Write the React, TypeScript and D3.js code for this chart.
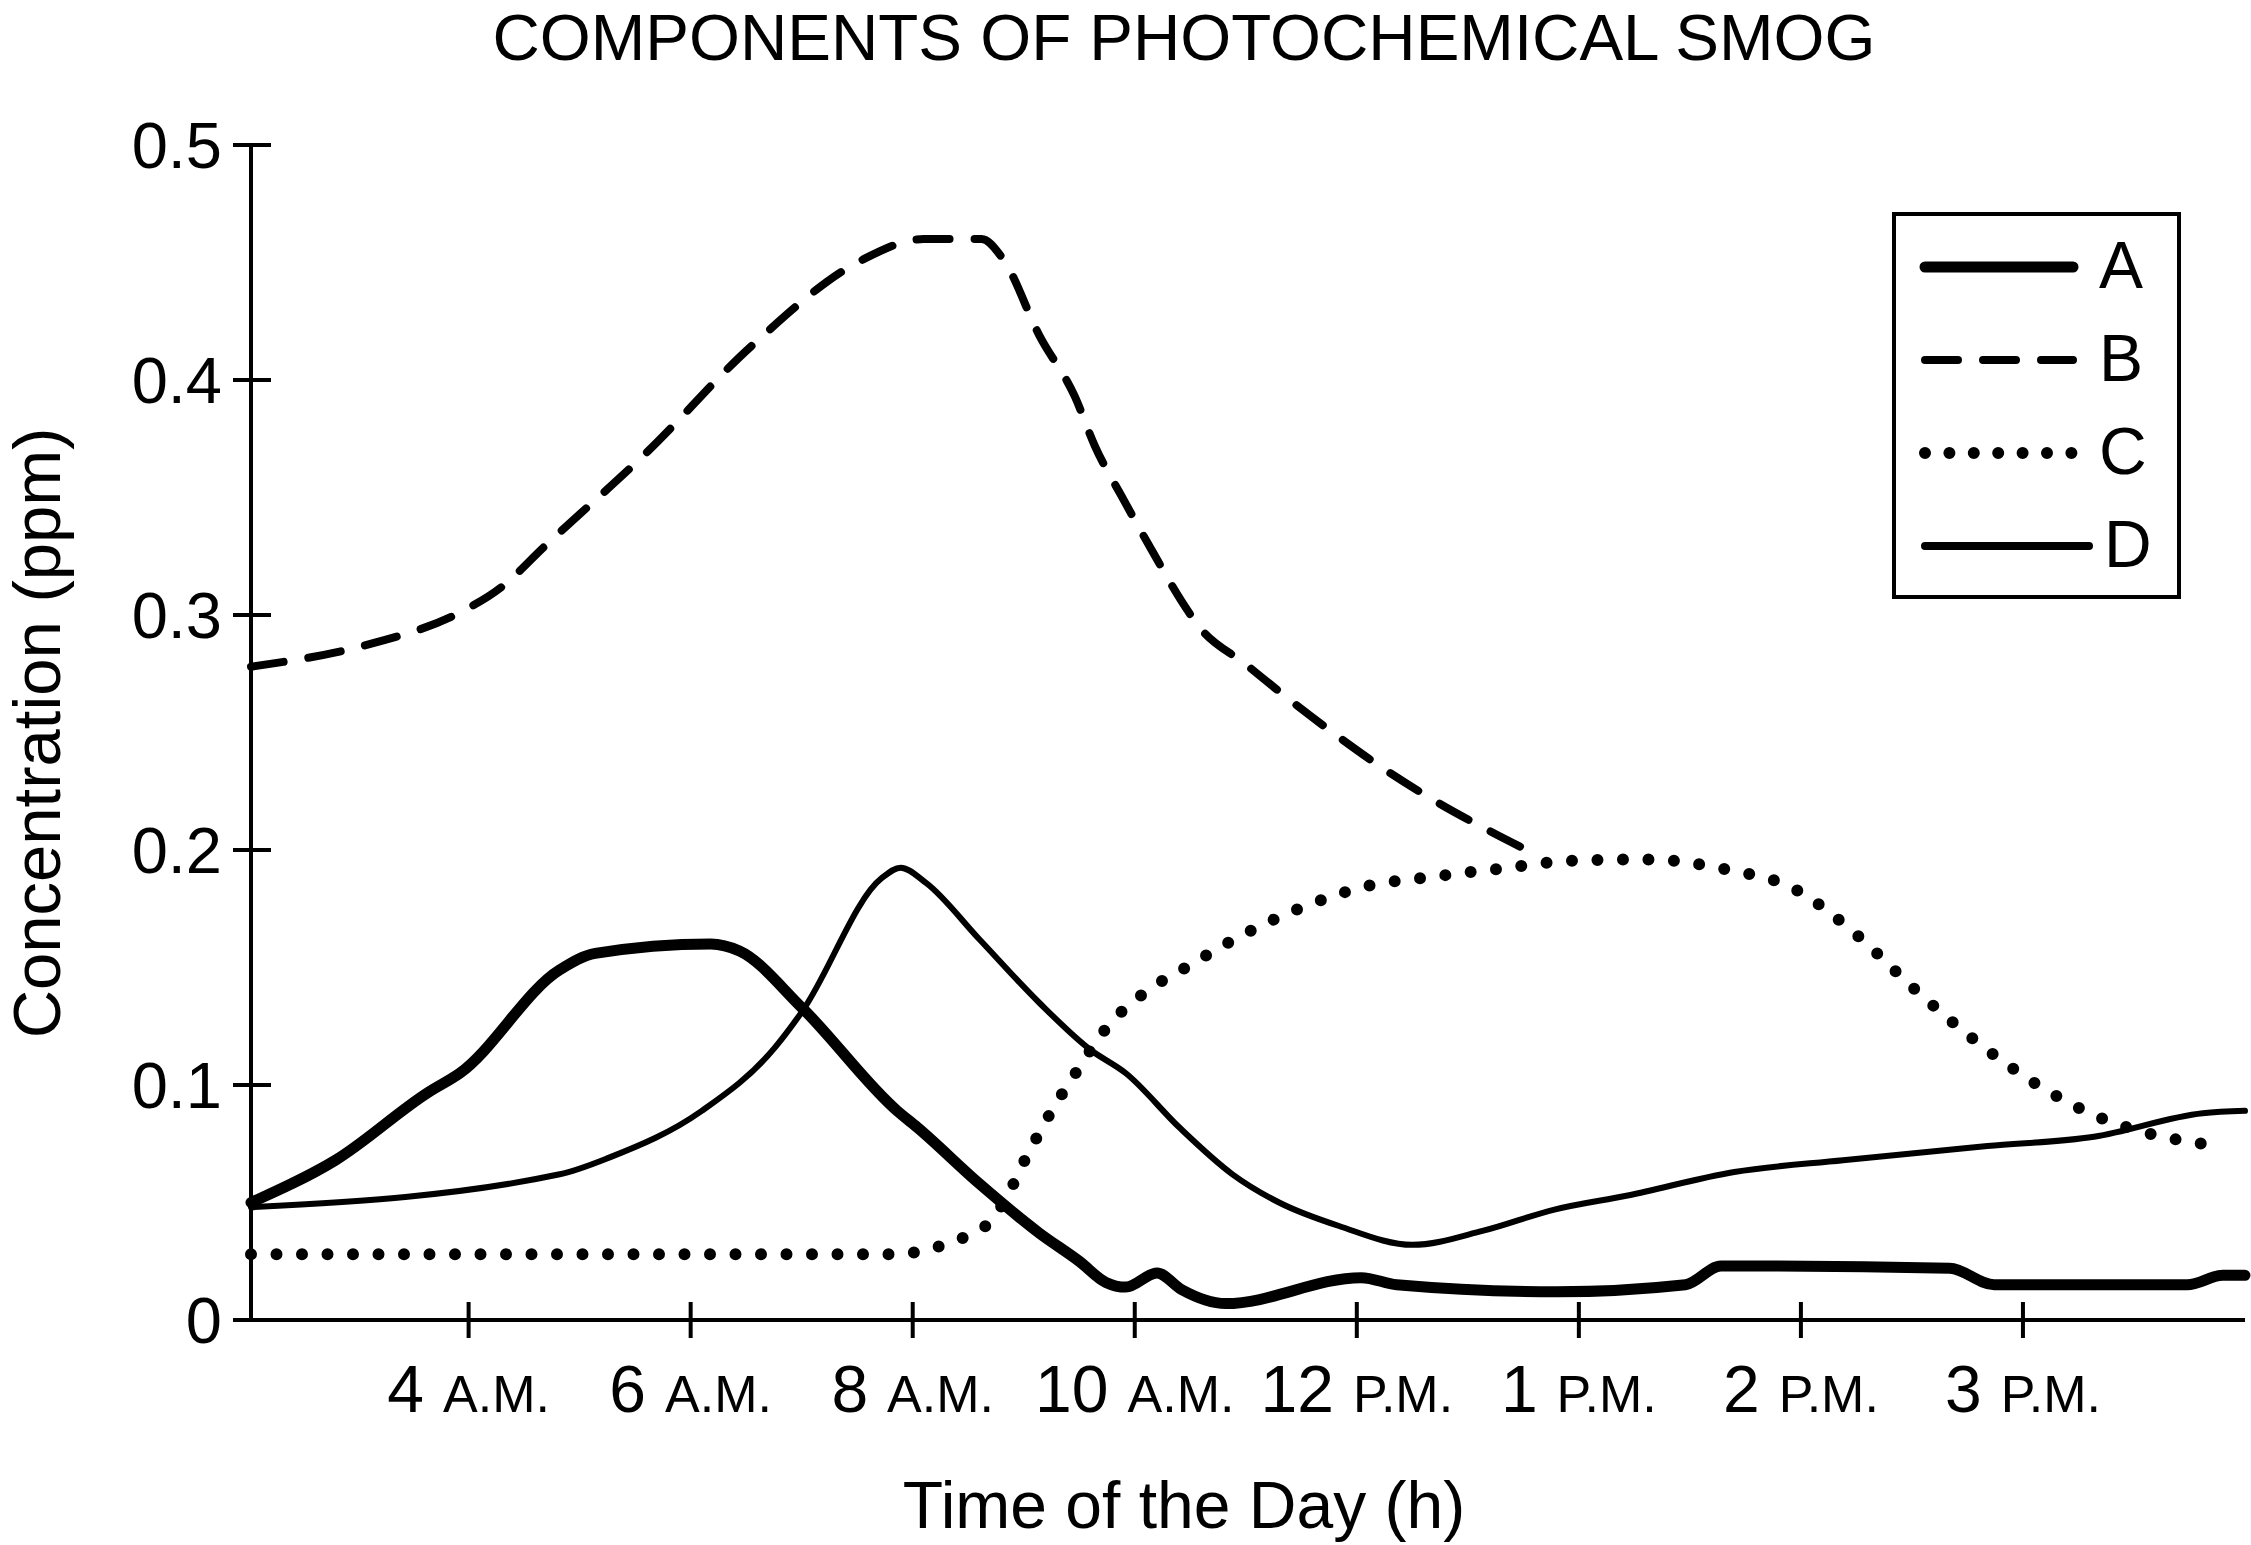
import { useMemo } from 'react';
import * as d3 from 'd3';

// x positions are in axis steps: 0 = y-axis, 1 = "4 A.M." ... 8 = "3 P.M.", 9 = right end
const tickPositions = [1, 2, 3, 4, 5, 6, 7, 8];
const tickHours = ['4', '6', '8', '10', '12', '1', '2', '3'];
const tickPeriods = ['A.M.', 'A.M.', 'A.M.', 'A.M.', 'P.M.', 'P.M.', 'P.M.', 'P.M.'];
const yTicks = [0, 0.1, 0.2, 0.3, 0.4, 0.5];
const yTickLabels = ['0', '0.1', '0.2', '0.3', '0.4', '0.5'];

const seriesNames = ['A', 'B', 'C', 'D'];

const posA = [0.02, 0.4, 0.82, 0.96, 1.41, 1.57, 2.09, 2.22, 2.5, 2.93, 3.02, 3.3, 3.57, 3.75, 3.87, 3.96, 4.1, 4.21, 4.41, 5.02, 5.18, 5.9, 6.48, 6.64, 7.67, 7.87, 8.74, 8.9, 9.0];
const valA = [0.05, 0.068, 0.097, 0.105, 0.149, 0.156, 0.16, 0.157, 0.133, 0.089, 0.082, 0.058, 0.037, 0.025, 0.016, 0.014, 0.02, 0.013, 0.007, 0.018, 0.015, 0.012, 0.015, 0.023, 0.022, 0.015, 0.015, 0.019, 0.019];

const posB = [0.02, 0.57, 0.96, 1.15, 1.34, 1.8, 2.28, 2.77, 3.05, 3.31, 3.41, 3.57, 3.73, 3.82, 3.95, 4.08, 4.21, 4.29, 4.5, 4.71, 4.92, 5.13, 5.35, 5.6, 5.83];
const valB = [0.278, 0.288, 0.301, 0.312, 0.329, 0.369, 0.415, 0.451, 0.46, 0.46, 0.451, 0.419, 0.393, 0.372, 0.349, 0.327, 0.306, 0.295, 0.279, 0.263, 0.248, 0.234, 0.221, 0.208, 0.197];

const posC = [0.02, 2.91, 3.02, 3.14, 3.25, 3.34, 3.41, 3.51, 3.62, 3.74, 3.87, 4.04, 4.23, 4.43, 4.64, 4.85, 5.06, 5.29, 5.64, 5.98, 6.32, 6.65, 6.98, 7.25, 7.51, 7.77, 8.05, 8.35, 8.68, 8.9];
const valC = [0.028, 0.028, 0.029, 0.032, 0.036, 0.041, 0.05, 0.069, 0.088, 0.106, 0.124, 0.139, 0.15, 0.161, 0.171, 0.179, 0.185, 0.188, 0.192, 0.1955, 0.196, 0.192, 0.183, 0.164, 0.141, 0.12, 0.101, 0.086, 0.077, 0.074];

const posD = [0.02, 1.41, 1.63, 2.05, 2.38, 2.5, 2.86, 2.946, 3.06, 3.3, 3.57, 3.8, 3.96, 4.2, 4.44, 4.65, 4.92, 5.25, 5.57, 5.89, 6.22, 6.7, 7.19, 7.84, 8.32, 8.81, 9.0];
const valD = [0.048, 0.062, 0.069, 0.089, 0.116, 0.131, 0.188, 0.1925, 0.186, 0.162, 0.135, 0.115, 0.105, 0.082, 0.062, 0.05, 0.04, 0.032, 0.038, 0.047, 0.053, 0.063, 0.068, 0.074, 0.078, 0.088, 0.089];

const font = '"Liberation Sans", Arial, Helvetica, sans-serif';

const styles: Record<string, { width: number; dash?: string }> = {
  A: { width: 11 },
  B: { width: 8, dash: '33 25' },
  C: { width: 12, dash: '0 25.5' },
  D: { width: 6 },
};

export default function App() {
  const x = useMemo(() => d3.scaleLinear().domain([0.02, 9]).range([251, 2245]), []);
  const y = useMemo(() => d3.scaleLinear().domain([0, 0.5]).range([1320, 145]), []);

  const series = useMemo(() => {
    const pairs = [
      [posA, valA],
      [posB, valB],
      [posC, valC],
      [posD, valD],
    ];
    const line = d3
      .line<[number, number]>()
      .x((d) => x(d[0]))
      .y((d) => y(d[1]))
      .curve(d3.curveMonotoneX);
    return seriesNames.map((name, i) => ({
      name,
      path: line(pairs[i][0].map((p, j) => [p, pairs[i][1][j]] as [number, number])) || '',
    }));
  }, [x, y]);

  const drawOrder = ['D', 'C', 'A', 'B'];

  return (
    <svg
      width={2251}
      height={1545}
      style={{ position: 'absolute', left: 0, top: 0, background: '#fff' }}
      fontFamily={font}
    >
      <rect width={2251} height={1545} fill="#fff" />
      <text x={1184} y={60} fontSize={65.5} textAnchor="middle">
        COMPONENTS OF PHOTOCHEMICAL SMOG
      </text>

      {/* y axis */}
      <g className="y-axis">
        <line x1={x(0.02)} x2={x(0.02)} y1={y(0)} y2={y(0.5)} stroke="#000" strokeWidth={4} />
        {yTicks.map((t, i) => (
          <g key={t}>
            <line
              x1={x(0.02) - 18}
              x2={t === 0 ? x(0.02) : x(0.02) + 20}
              y1={y(t)}
              y2={y(t)}
              stroke="#000"
              strokeWidth={4}
            />
            <text x={222} y={y(t) + 23} fontSize={65} textAnchor="end">
              {yTickLabels[i]}
            </text>
          </g>
        ))}
      </g>

      {/* x axis */}
      <g className="x-axis">
        <line x1={x(0.02)} x2={x(9)} y1={y(0)} y2={y(0)} stroke="#000" strokeWidth={4} />
        {tickPositions.map((p, i) => (
          <g key={p}>
            <line x1={x(p)} x2={x(p)} y1={y(0) - 18} y2={y(0) + 18} stroke="#000" strokeWidth={4} />
            <text x={x(p)} y={1412} textAnchor="middle" fontSize={66}>
              <tspan>{tickHours[i]}</tspan>
              <tspan dx={19} fontSize={52}>
                {tickPeriods[i]}
              </tspan>
            </text>
          </g>
        ))}
      </g>

      <text transform="translate(60,733) rotate(-90)" fontSize={67} textAnchor="middle">
        Concentration (ppm)
      </text>
      <text x={1184} y={1528} fontSize={66} textAnchor="middle">
        Time of the Day (h)
      </text>

      {/* series */}
      <g className="lines">
        {drawOrder.map((name) => {
          const s = series.find((d) => d.name === name)!;
          const st = styles[name];
          return (
            <path
              key={name}
              d={s.path}
              fill="none"
              stroke="#000"
              strokeWidth={st.width}
              strokeDasharray={st.dash}
              strokeLinecap="round"
              strokeLinejoin="round"
            />
          );
        })}
      </g>

      {/* legend */}
      <g className="legend">
        <rect x={1894} y={214} width={285} height={383} fill="#fff" stroke="#000" strokeWidth={4} />
        {seriesNames.map((name, i) => {
          const ly = 267 + i * 93;
          const st = styles[name];
          return (
            <g key={name}>
              <line
                x1={1925}
                x2={name === 'D' ? 2089 : name === 'C' ? 2072 : 2073}
                y1={ly}
                y2={ly}
                stroke="#000"
                strokeWidth={name === 'D' ? 8 : st.width}
                strokeDasharray={name === 'C' ? '0 24.4' : st.dash}
                strokeLinecap="round"
              />
              <text x={name === 'D' ? 2104 : 2099} y={ly + 21} fontSize={66}>
                {name}
              </text>
            </g>
          );
        })}
      </g>
    </svg>
  );
}
